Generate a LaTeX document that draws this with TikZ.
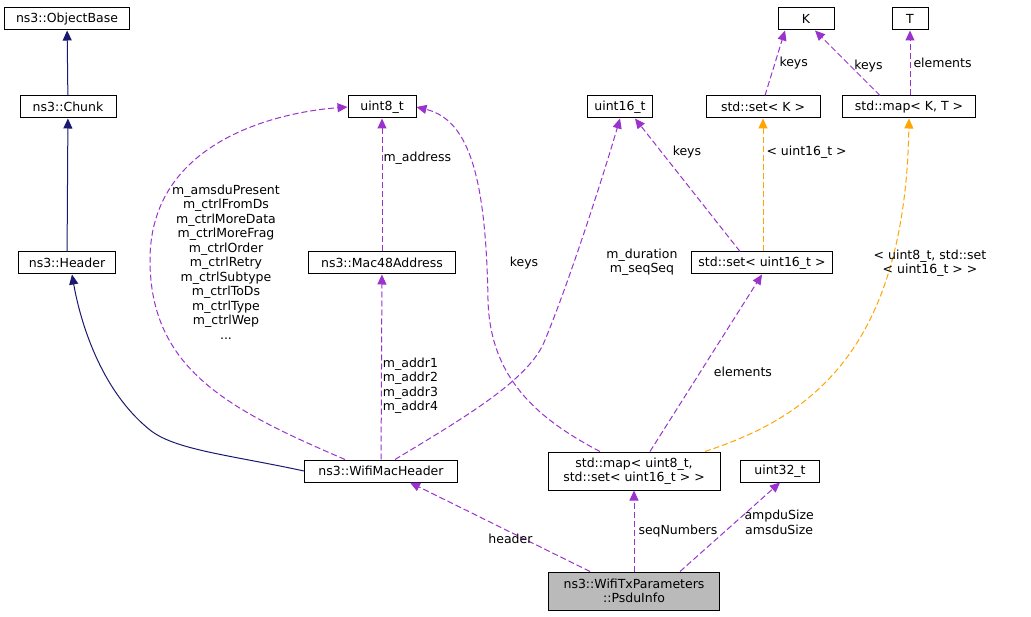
\documentclass[tikz,border=0pt]{standalone}
\usepackage{fontspec}
\setmainfont{DejaVu Sans}
\usetikzlibrary{arrows.meta}
\definecolor{inh}{HTML}{191970}
\definecolor{use}{HTML}{9A32CD}
\definecolor{tmpl}{HTML}{FFA500}
\begin{document}
\begin{tikzpicture}[x=1pt,y=-1pt, line width=1pt]
		\tikzset{box/.style = {shape=rectangle, draw, fill=white, inner sep=2pt, minimum height=22pt, align=center, font=\fontsize{12.5}{14.5}\selectfont},
			lbl/.style = {font=\fontsize{12.5}{14.5}\selectfont, align=center, inner sep=1pt},
			inherit/.style = {draw=inh, -{Triangle[length=10pt,width=9pt,fill=inh]}},
			member/.style = {draw=use, dash pattern=on 6pt off 3pt, -{Triangle[length=10pt,width=9pt,fill=use]}},
			targ/.style = {draw=tmpl, dash pattern=on 6pt off 3pt, -{Triangle[length=10pt,width=9pt,fill=tmpl]}}}
		\useasboundingbox (0,0) rectangle (1031,617);

		\node[box, minimum width=125pt] (objbase) at (67,19) {ns3::ObjectBase};
		\node[box, minimum width=96pt] (chunk) at (68,107) {ns3::Chunk};
		\node[box, minimum width=97pt] (header) at (67,263) {ns3::Header};
		\node[box, minimum width=153pt] (wmh) at (381,471) {ns3::WifiMacHeader};
		\node[box, minimum width=68pt] (u8) at (382,107) {uint8\_t};
		\node[box, minimum width=147pt] (mac) at (382,263) {ns3::Mac48Address};
		\node[box, minimum width=65pt] (u16) at (620,107) {uint16\_t};
		\node[box, minimum width=56pt] (K) at (806,19) {K};
		\node[box, minimum width=36pt] (T) at (910,19) {T};
		\node[box, minimum width=114pt] (setK) at (763,107) {std::set< K >};
		\node[box, minimum width=133pt] (mapKT) at (909,107) {std::map< K, T >};
		\node[box, minimum width=141pt] (set16) at (762,263) {std::set< uint16\_t >};
		\node[box, minimum width=172pt, minimum height=38pt, inner sep=1pt] (map8) at (634,471) {std::map< uint8\_t,\\ std::set< uint16\_t > >};
		\node[box, minimum width=79pt] (u32) at (780,471) {uint32\_t};
		\node[box, minimum width=171pt, minimum height=38pt, inner sep=1pt, fill=black!27] (psdu) at (634,591) {ns3::WifiTxParameters\\ ::PsduInfo};

		\draw[inherit] (chunk) -- (objbase);
		\draw[inherit] (header) -- (chunk);
		\draw[inherit] (wmh.west) .. controls (230,455) and (175,450) .. (150,430) .. controls (100,390) and (80,320) .. (header.south -| 72,0);

		\draw[member] (wmh) -- (mac) node[lbl, pos=0.4, anchor=west] {m\_addr1\\m\_addr2\\m\_addr3\\m\_addr4};
		\draw[member] (mac) -- (u8) node[lbl, pos=0.7, anchor=west] {m\_address};
		\draw[member] (wmh.north -| 345,0) .. controls (230,410) and (150,370) .. (150,260) .. controls (150,140) and (280,112) .. (u8.west);
		\node[lbl] at (226,262) {m\_amsduPresent\\m\_ctrlFromDs\\m\_ctrlMoreData\\m\_ctrlMoreFrag\\m\_ctrlOrder\\m\_ctrlRetry\\m\_ctrlSubtype\\m\_ctrlToDs\\m\_ctrlType\\m\_ctrlWep\\...};
		\draw[member] (wmh.north -| 395,0) .. controls (460,420) and (530,380) .. (545,340) .. controls (570,280) and (605,170) .. (u16.south);
		\node[lbl] at (642,262) {m\_duration\\m\_seqSeq};
		\draw[member] (map8.north -| 600,0) .. controls (540,420) and (490,380) .. (488,300) .. controls (486,180) and (470,120) .. (u8.east);
		\node[lbl] at (524,263) {keys};
		\draw[member] (map8.north -| 650,0) -- (set16.south) node[lbl, pos=0.45, anchor=west, xshift=12pt] {elements};
		\draw[targ] (map8.north -| 705,0) .. controls (800,420) and (905,360) .. (mapKT.south);
		\node[lbl] at (930,263) {< uint8\_t, std::set\\< uint16\_t > >};
		\draw[member] (set16.north -| 740,0) -- (u16.south -| 635,0) node[lbl, pos=0.75, anchor=west, xshift=10pt] {keys};
		\draw[targ] (set16.north -| 763,0) -- (setK) node[lbl, pos=0.75, anchor=west, xshift=2pt] {< uint16\_t >};
		\draw[member] (setK.north -| 765,0) -- (K.south -| 785,0) node[lbl, midway, anchor=west, xshift=3pt] {keys};
		\draw[member] (mapKT.north -| 880,0) -- (K.south -| 815,0) node[lbl, pos=0.45, anchor=west, xshift=2pt] {keys};
		\draw[member] (mapKT.north -| 910,0) -- (T) node[lbl, midway, anchor=west, xshift=2pt] {elements};

		\draw[member] (psdu.north -| 590,0) -- (wmh.south -| 410,0) node[lbl, pos=0.3, anchor=south east, xshift=-2pt] {header};
		\draw[member] (psdu.north) -- (map8.south) node[lbl, midway, anchor=west, xshift=3pt] {seqNumbers};
		\draw[member] (psdu.north -| 680,0) -- (u32.south) node[lbl, pos=0.55, anchor=west, xshift=8pt] {ampduSize\\amsduSize};

	\end{tikzpicture}
\end{document}
